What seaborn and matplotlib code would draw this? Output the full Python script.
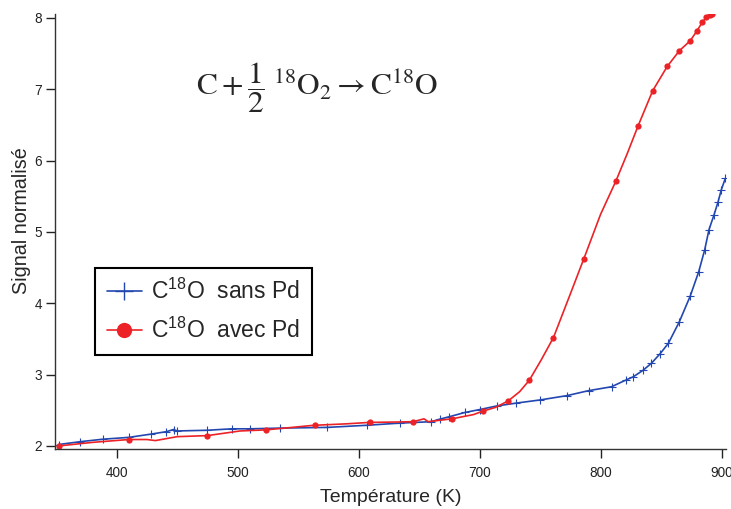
import seaborn as sns
import matplotlib.pyplot as plt
import pandas as pd

# Courbes (température en K, signal normalisé)
sans_pd_T = [352, 370, 389, 410, 428, 441, 447, 450, 475, 495, 510, 535, 574, 607,
             634, 660, 667, 675, 688, 700, 714, 730, 750, 772, 790, 809, 821, 827,
             835, 842, 849, 856, 865, 874, 881, 886, 889.5, 893.7, 897, 899.7, 903]
sans_pd_S = [2.02, 2.06, 2.095, 2.12, 2.165, 2.20, 2.23, 2.21, 2.22, 2.24, 2.24, 2.25,
             2.26, 2.29, 2.32, 2.34, 2.375, 2.41, 2.47, 2.51, 2.56, 2.60, 2.645, 2.705,
             2.775, 2.83, 2.925, 2.97, 3.06, 3.16, 3.29, 3.44, 3.74, 4.10, 4.44, 4.75,
             5.03, 5.24, 5.42, 5.59, 5.75]

avec_pd_T = [352, 380, 410, 425, 432, 450, 475, 502, 523, 545, 560, 564, 590, 609,
             630, 645, 654, 657.5, 667, 677, 695, 703, 713, 723.5, 733, 741, 751, 761,
             774, 786, 800, 812.5, 822, 831, 843, 855, 865, 874, 879.6, 884, 887.4,
             890.7, 892.3]
avec_pd_S = [2.00, 2.05, 2.09, 2.09, 2.075, 2.13, 2.145, 2.21, 2.225, 2.26, 2.285, 2.29,
             2.31, 2.33, 2.335, 2.34, 2.38, 2.34, 2.36, 2.38, 2.44, 2.49, 2.54, 2.63,
             2.76, 2.92, 3.21, 3.52, 4.09, 4.62, 5.25, 5.71, 6.10, 6.49, 6.98, 7.32,
             7.54, 7.68, 7.82, 7.94, 8.01, 8.04, 8.05]
# indices des points portant un marqueur rond
avec_pd_marks = [0, 2, 6, 8, 11, 13, 15, 19, 21, 23, 25, 27, 29, 31, 33, 34, 35, 36,
                 37, 38, 39, 40, 41, 42]

x_ticks = [400, 500, 600, 700, 800, 900]
y_ticks = [2, 3, 4, 5, 6, 7, 8]

df_sans = pd.DataFrame({'T': sans_pd_T, 'S': sans_pd_S})
df_avec = pd.DataFrame({'T': avec_pd_T, 'S': avec_pd_S})

sns.set_style("ticks")
plt.rcParams['font.family'] = ['Liberation Sans', 'DejaVu Sans']

fig, ax = plt.subplots(figsize=(7.31, 5.09), dpi=100)
fig.subplots_adjust(left=0.0752, right=0.993, bottom=0.118, top=0.9725)

blue = '#2347b0'
red = '#ec2226'

sns.lineplot(data=df_sans, x='T', y='S', ax=ax, sort=False, estimator=None,
             color=blue, linewidth=1.2, marker='+', markersize=5.5,
             markeredgewidth=0.8, markeredgecolor=blue,
             label=r'C$\mathregular{^{18}}$O  sans Pd')
sns.lineplot(data=df_avec, x='T', y='S', ax=ax, sort=False, estimator=None,
             color=red, linewidth=1.2, marker='o', markersize=4.5,
             markeredgewidth=0, markevery=avec_pd_marks,
             label=r'C$\mathregular{^{18}}$O  avec Pd')

ax.set_xlim(349, 903.5)
ax.set_ylim(1.958, 8.056)
ax.set_xticks(x_ticks)
ax.set_yticks(y_ticks)
ax.tick_params(direction='out', length=6.5, width=1, labelsize=9.8,
               colors='#222222')
ax.tick_params(axis='x', pad=6)
ax.tick_params(axis='y', pad=3)
for s in ['left', 'bottom']:
    ax.spines[s].set_color('#333333')
    ax.spines[s].set_linewidth(1)
sns.despine(ax=ax)

ax.set_xlabel('Température (K)', fontsize=14, labelpad=6)
ax.set_ylabel('Signal normalisé', fontsize=14.2)
ax.yaxis.set_label_coords(-0.035, 0.524)

leg = ax.legend(loc='upper left', bbox_to_anchor=(0.06, 0.417), fontsize=16.5,
                frameon=True, fancybox=False, edgecolor='black', handlelength=1.55,
                borderpad=0.5, labelspacing=0.6, handletextpad=0.4,
                borderaxespad=0)
leg.get_frame().set_linewidth(1.5)
leg.get_frame().set_alpha(1)
for h, ms in zip(leg.legend_handles, [13, 11]):
    h.set_markevery([1])
    h.set_markersize(ms)
leg.legend_handles[0].set_markeredgewidth(1)

fig.text(0.434, 0.827,
         r'$\mathrm{C} + \dfrac{1}{2}\;{}^{18}\mathrm{O}_2 \rightarrow \mathrm{C}^{18}\mathrm{O}$',
         fontsize=22.5, ha='center', va='center', math_fontfamily='stix')

plt.savefig('out.png', dpi=100)
